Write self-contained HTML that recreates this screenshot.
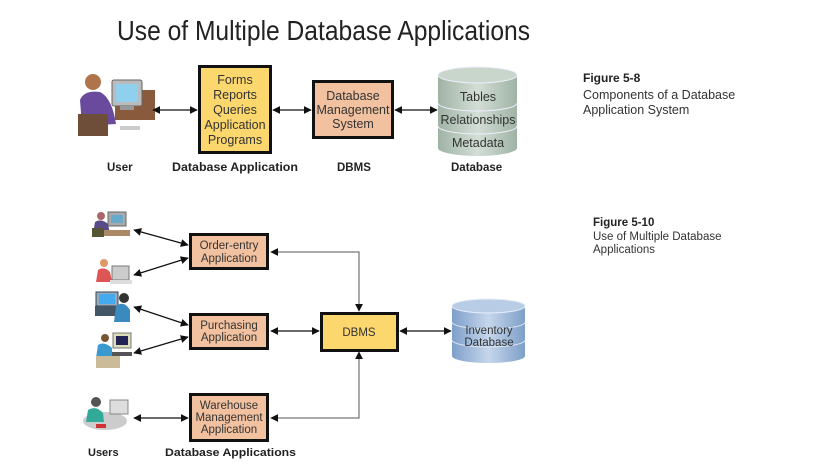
<!DOCTYPE html>
<html><head><meta charset="utf-8"><style>
html,body{margin:0;padding:0;background:#fff;}
svg{display:block;}
text{font-family:"Liberation Sans",sans-serif;}
</style></head><body>
<svg width="826" height="474" viewBox="0 0 826 474" xmlns="http://www.w3.org/2000/svg">
<defs>
<marker id="a" viewBox="0 0 10 10" refX="9" refY="5" markerWidth="8" markerHeight="8" markerUnits="userSpaceOnUse" orient="auto-start-reverse"><path d="M0,0 L10,5 L0,10 z" fill="#111"/></marker>
<linearGradient id="cg" x1="0" x2="1"><stop offset="0" stop-color="#9fb3a5"/><stop offset="0.5" stop-color="#d3ded6"/><stop offset="1" stop-color="#9fb3a5"/></linearGradient>
<linearGradient id="bg" x1="0" x2="1"><stop offset="0" stop-color="#7d9fc9"/><stop offset="0.5" stop-color="#c6d6ec"/><stop offset="1" stop-color="#7d9fc9"/></linearGradient>
</defs>

<text x="117" y="40" font-size="28" fill="#222" textLength="413" lengthAdjust="spacingAndGlyphs">Use of Multiple Database Applications</text>

<!-- Figure 5-8 -->
<g>
<!-- user -->
<rect x="115" y="90" width="40" height="30" fill="#8a5a3c"/>
<rect x="112" y="80" width="30" height="26" rx="2" fill="#bbb" stroke="#666"/>
<rect x="116" y="84" width="22" height="18" fill="#8fd0ee"/>
<rect x="120" y="106" width="14" height="4" fill="#999"/>
<circle cx="93" cy="82" r="8" fill="#b0744c"/>
<path d="M80,100 Q84,90 100,92 Q112,98 116,124 L82,126 z" fill="#6a4a9c"/>
<rect x="78" y="114" width="30" height="22" fill="#6e4e38"/>
<rect x="120" y="126" width="20" height="4" fill="#ccc"/>
<line x1="153" y1="110" x2="197" y2="110" stroke="#111" stroke-width="1.3" marker-start="url(#a)" marker-end="url(#a)"/>
<rect x="199.5" y="66.5" width="71" height="86" fill="#fcd76e" stroke="#111" stroke-width="3"/>
<g font-size="12.5" fill="#333" text-anchor="middle">
<text x="235" y="84">Forms</text><text x="235" y="99">Reports</text><text x="235" y="114">Queries</text><text x="235" y="129">Application</text><text x="235" y="144">Programs</text>
</g>
<line x1="273" y1="110" x2="311" y2="110" stroke="#111" stroke-width="1.3" marker-start="url(#a)" marker-end="url(#a)"/>
<rect x="313.5" y="81.5" width="79" height="56" fill="#f2c2a0" stroke="#111" stroke-width="3"/>
<g font-size="12.5" fill="#333" text-anchor="middle">
<text x="353" y="100">Database</text><text x="353" y="114">Management</text><text x="353" y="128">System</text>
</g>
<line x1="395" y1="110" x2="437" y2="110" stroke="#111" stroke-width="1.3" marker-start="url(#a)" marker-end="url(#a)"/>
<path d="M438,75 L438,148 A39.5,8 0 0 0 517,148 L517,75 z" fill="url(#cg)"/>
<ellipse cx="477.5" cy="75" rx="39.5" ry="8" fill="#c8d6cc" stroke="#eef" stroke-width="1"/>
<path d="M438,103 A39.5,8 0 0 0 517,103 M438,126 A39.5,8 0 0 0 517,126" fill="none" stroke="#eef" stroke-width="1"/>
<g font-size="12.5" fill="#333" text-anchor="middle">
<text x="478" y="101">Tables</text><text x="478" y="124">Relationships</text><text x="478" y="147">Metadata</text>
</g>
<g font-size="11.5" font-weight="bold" fill="#222">
<text x="107" y="171">User</text>
<text x="172" y="171" textLength="126" lengthAdjust="spacingAndGlyphs">Database Application</text>
<text x="337" y="171">DBMS</text>
<text x="451" y="171">Database</text>
</g>
</g>

<g fill="#222">
<text x="583" y="82" font-size="12" font-weight="bold">Figure 5-8</text>
<text x="583" y="99" font-size="12.5" fill="#333">Components of a Database</text>
<text x="583" y="114" font-size="12.5" fill="#333">Application System</text>
<text x="593" y="226" font-size="11.5" font-weight="bold">Figure 5-10</text>
<text x="593" y="240" font-size="11.5" fill="#333">Use of Multiple Database</text>
<text x="593" y="253" font-size="11.5" fill="#333">Applications</text>
</g>

<!-- Figure 5-10 icons -->
<g>
<rect x="108" y="212" width="18" height="14" fill="#aaa" stroke="#666"/><rect x="111" y="215" width="12" height="8" fill="#6ac"/>
<circle cx="101" cy="216" r="4" fill="#a66"/><path d="M93,234 L95,222 Q101,218 108,224 L110,234 z" fill="#5a4a8a"/>
<rect x="92" y="228" width="12" height="9" fill="#553"/><rect x="104" y="230" width="26" height="6" fill="#a86"/>

<circle cx="104" cy="263" r="4" fill="#d96"/><path d="M96,282 L98,270 Q104,266 110,272 L112,282 z" fill="#d55"/>
<rect x="112" y="266" width="17" height="14" fill="#ccc" stroke="#777"/><rect x="110" y="280" width="22" height="4" fill="#ddd"/>

<rect x="96" y="292" width="22" height="14" fill="#9ab" stroke="#345"/><rect x="99" y="294" width="16" height="10" fill="#4ae"/>
<rect x="95" y="306" width="26" height="10" fill="#456"/>
<circle cx="124" cy="298" r="5" fill="#333"/><path d="M114,322 L116,306 Q124,300 130,310 L130,322 z" fill="#3a8abf"/>

<rect x="113" y="333" width="18" height="15" fill="#ddb" stroke="#777"/><rect x="116" y="336" width="12" height="9" fill="#225"/>
<circle cx="105" cy="338" r="4" fill="#753"/><path d="M96,358 L98,345 Q104,341 112,348 L112,358 z" fill="#3a9ad0"/>
<rect x="96" y="356" width="24" height="12" fill="#cb9"/><rect x="112" y="352" width="20" height="4" fill="#555"/>

<ellipse cx="105" cy="421" rx="22" ry="9" fill="#ccc"/>
<circle cx="96" cy="402" r="5" fill="#555"/><path d="M86,422 L88,410 Q96,405 103,413 L104,422 z" fill="#3a9"/>
<rect x="110" y="400" width="18" height="14" fill="#ddd" stroke="#888"/><rect x="96" y="424" width="10" height="4" fill="#c33"/>
</g>

<g stroke="#111" stroke-width="1.2" fill="none">
<line x1="134" y1="230" x2="188" y2="245" marker-start="url(#a)" marker-end="url(#a)"/>
<line x1="134" y1="275" x2="188" y2="258" marker-start="url(#a)" marker-end="url(#a)"/>
<line x1="134" y1="307" x2="188" y2="325" marker-start="url(#a)" marker-end="url(#a)"/>
<line x1="134" y1="353" x2="188" y2="337" marker-start="url(#a)" marker-end="url(#a)"/>
<line x1="134" y1="418" x2="188" y2="418" marker-start="url(#a)" marker-end="url(#a)"/>
<line x1="271" y1="331" x2="319" y2="331" marker-start="url(#a)" marker-end="url(#a)"/>
<line x1="400" y1="331" x2="451" y2="331" marker-start="url(#a)" marker-end="url(#a)"/>
</g>
<g stroke="#555" stroke-width="1" fill="none">
<polyline points="271,252 359,252 359,311" marker-start="url(#a)" marker-end="url(#a)"/>
<polyline points="271,418 359,418 359,352" marker-start="url(#a)" marker-end="url(#a)"/>
</g>

<g stroke="#111" stroke-width="3">
<rect x="190.5" y="234.5" width="77" height="34" fill="#f2c2a0"/>
<rect x="190.5" y="314.5" width="77" height="34" fill="#f2c2a0"/>
<rect x="190.5" y="394.5" width="77" height="46" fill="#f2c2a0"/>
<rect x="321.5" y="313.5" width="76" height="37" fill="#fcd76e"/>
</g>
<g font-size="11.5" fill="#333" text-anchor="middle">
<text x="229" y="249">Order-entry</text><text x="229" y="262">Application</text>
<text x="229" y="329">Purchasing</text><text x="229" y="341">Application</text>
<text x="229" y="409">Warehouse</text><text x="229" y="421">Management</text><text x="229" y="433">Application</text>
<text x="359" y="336">DBMS</text>
</g>

<path d="M452,306 L452,356 A36.5,7 0 0 0 525,356 L525,306 z" fill="url(#bg)"/>
<ellipse cx="488.5" cy="306" rx="36.5" ry="7" fill="#b9cce6" stroke="#e8eef8"/>
<path d="M452,322 A36.5,7 0 0 0 525,322 M452,340 A36.5,7 0 0 0 525,340" fill="none" stroke="#dde6f3"/>
<g font-size="11.5" fill="#333" text-anchor="middle">
<text x="489" y="334">Inventory</text><text x="489" y="346">Database</text>
</g>

<g font-size="11" font-weight="bold" fill="#222">
<text x="88" y="456">Users</text>
<text x="165" y="456" textLength="131" lengthAdjust="spacingAndGlyphs">Database Applications</text>
</g>
</svg>
</body></html>
